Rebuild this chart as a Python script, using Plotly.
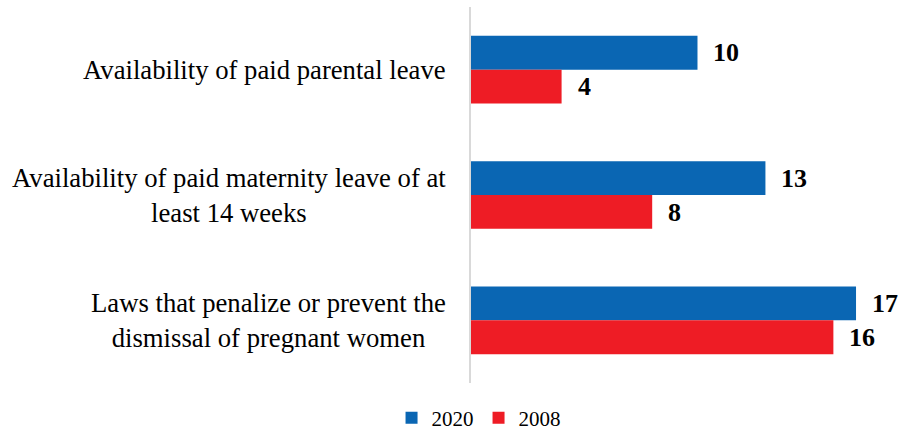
import plotly.graph_objects as go

categories = [
    "Availability of paid parental leave",
    "Availability of paid maternity leave of at<br>least 14 weeks",
    "Laws that penalize or prevent the<br>dismissal of pregnant women",
]
cat_keys = ["parental", "maternity", "dismissal"]
series_names = ["2020", "2008"]
values_2020 = [10, 13, 17]
values_2008 = [4, 8, 16]
colors = ["#0A66B3", "#EE1C25"]

FONT = "Liberation Serif, Times New Roman, serif"

fig = go.Figure()
for name, vals, col in zip(series_names, [values_2020, values_2008], colors):
    fig.add_trace(go.Bar(
        name=name, x=vals, y=cat_keys, orientation="h",
        marker=dict(color=col, line=dict(width=0)),
    ))

annotations = []
# category labels, lines centered within a right-aligned block
for key, lab in zip(cat_keys, categories):
    annotations.append(dict(
        x=0, xref="paper", y=key, yref="y", text=lab, showarrow=False,
        xanchor="right", yanchor="middle", align="center", xshift=-23,
        font=dict(family=FONT, size=26.7, color="#000000"),
    ))
# value labels
for vals, shift in [(values_2020, 17), (values_2008, -17)]:
    for key, v in zip(cat_keys, vals):
        annotations.append(dict(
            x=v, xref="x", y=key, yref="y", text=f"<b>{v}</b>", showarrow=False,
            xanchor="left", yanchor="middle", xshift=14, yshift=shift,
            font=dict(family=FONT, size=26, color="#000000"),
        ))

fig.update_layout(
    width=899, height=435,
    margin=dict(l=471, r=9, t=7, b=52, autoexpand=False),
    paper_bgcolor="white", plot_bgcolor="white",
    barmode="group", bargap=0.46, bargroupgap=0,
    showlegend=True,
    legend=dict(orientation="h", x=0.018, xanchor="center",
                yref="container", y=0.039, yanchor="middle",
                font=dict(family=FONT, size=21, color="#000000"),
                itemwidth=30, tracegroupgap=0),
    annotations=annotations,
    xaxis=dict(range=[0, 18.5], showgrid=False, zeroline=False, showticklabels=False,
               showline=False, ticks=""),
    yaxis=dict(autorange="reversed", showgrid=False, zeroline=False,
               showticklabels=False, showline=True, linecolor="#D9D9D9", linewidth=2,
               ticks=""),
)

fig.write_html("out.html")
